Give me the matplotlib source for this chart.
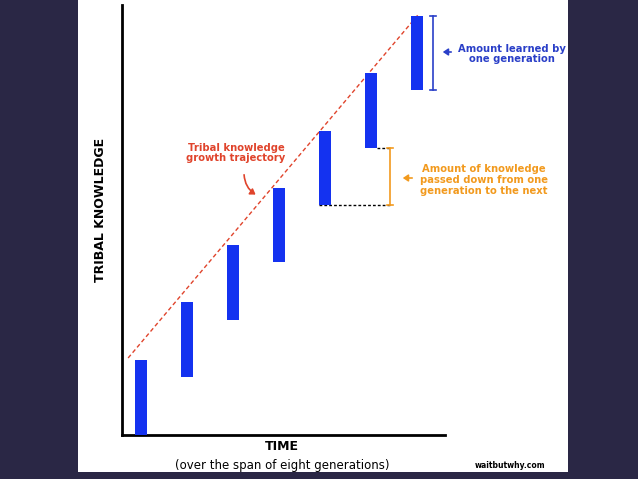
import matplotlib
matplotlib.use("Agg")
import matplotlib.pyplot as plt
from matplotlib.patches import FancyArrowPatch

W, H = 638, 479
generations = [1, 2, 3, 4, 5, 6, 7]
bar_bottom = [0, 58, 115, 173, 230, 287, 345]
bar_top = [75, 133, 190, 247, 304, 362, 419]
traj_x = [0.72, 7.02]
traj_y = [77, 420]

BLUE = "#1432f0"; RED = "#e0442c"; ORANGE = "#f29a1e"; NAVY = "#2a2745"; DBLUE = "#2a3fc8"

fig = plt.figure(figsize=(W/100, H/100), dpi=100)
fig.patch.set_facecolor(NAVY)
def fx(px): return px / W
def fy(py): return 1 - py / H
panel = fig.add_axes([fx(78), fy(472), fx(568) - fx(78), fy(0) - fy(472)])
panel.set_facecolor("white"); panel.set_xticks([]); panel.set_yticks([])
for s in panel.spines.values(): s.set_visible(False)

ax = fig.add_axes([fx(122), fy(435), fx(445) - fx(122), fy(5) - fy(435)])
ax.patch.set_alpha(0)
ax.set_xlim(0.587, 7.609); ax.set_ylim(0, 430)
heights = [t - b for t, b in zip(bar_top, bar_bottom)]
ax.bar(generations, heights, bottom=bar_bottom, width=0.26, color=BLUE, zorder=3)
ax.plot(traj_x, traj_y, ls=(0, (3, 2)), color=RED, lw=1, zorder=2)
for s in ["top", "right"]: ax.spines[s].set_visible(False)
for s in ["left", "bottom"]: ax.spines[s].set_linewidth(2)
ax.set_xticks([]); ax.set_yticks([])

ox = 6.41
ax.plot([5 - 0.13, ox], [bar_bottom[4]] * 2, ls=(0, (2, 1.5)), color="black", lw=1, clip_on=False)
ax.plot([6 + 0.13, ox], [bar_bottom[5]] * 2, ls=(0, (2, 1.5)), color="black", lw=1, clip_on=False)
ax.plot([ox, ox], [bar_bottom[4], bar_bottom[5]], color=ORANGE, lw=1.2, clip_on=False)
for yv in [bar_bottom[4], bar_bottom[5]]:
    ax.plot([ox - 0.07, ox + 0.07], [yv, yv], color=ORANGE, lw=1.2, clip_on=False)
bx = 7.35
ax.plot([bx, bx], [bar_bottom[6], bar_top[6]], color=DBLUE, lw=1.2, clip_on=False)
for yv in [bar_bottom[6], bar_top[6]]:
    ax.plot([bx - 0.07, bx + 0.07], [yv, yv], color=DBLUE, lw=1.2, clip_on=False)

fs = 7.2
fig.text(fx(100), fy(210), "TRIBAL KNOWLEDGE", rotation=90, ha="center", va="center", fontsize=9, fontweight="bold")
fig.text(fx(282), fy(447), "TIME", ha="center", va="center", fontsize=9, fontweight="bold")
fig.text(fx(282), fy(465), "(over the span of eight generations)", ha="center", va="center", fontsize=8.5)
fig.text(fx(510), fy(466), "waitbutwhy.com", ha="center", va="center", fontsize=5.5, fontweight="bold")
fig.text(fx(236), fy(153), "Tribal knowledge\ngrowth trajectory", ha="center", va="center", fontsize=fs, fontweight="bold", color=RED, linespacing=1.1)
fig.text(fx(512), fy(54), "Amount learned by\none generation", ha="center", va="center", fontsize=fs, fontweight="bold", color=DBLUE, linespacing=1.1)
fig.text(fx(484), fy(180), "Amount of knowledge\npassed down from one\ngeneration to the next", ha="center", va="center", fontsize=fs, fontweight="bold", color=ORANGE, linespacing=1.1)

def arrow(p0, p1, color, rad=0.0):
    a = FancyArrowPatch((fx(p0[0]), fy(p0[1])), (fx(p1[0]), fy(p1[1])), transform=fig.transFigure,
                        arrowstyle="-|>,head_length=3,head_width=2", color=color, lw=1.2,
                        connectionstyle=f"arc3,rad={rad}")
    fig.patches.append(a)
arrow((244, 172), (258, 196), RED, rad=0.3)
arrow((454, 52), (440, 52), DBLUE)
arrow((415, 178), (400, 178), ORANGE)

fig.savefig("out.png", dpi=100, facecolor=fig.get_facecolor())
